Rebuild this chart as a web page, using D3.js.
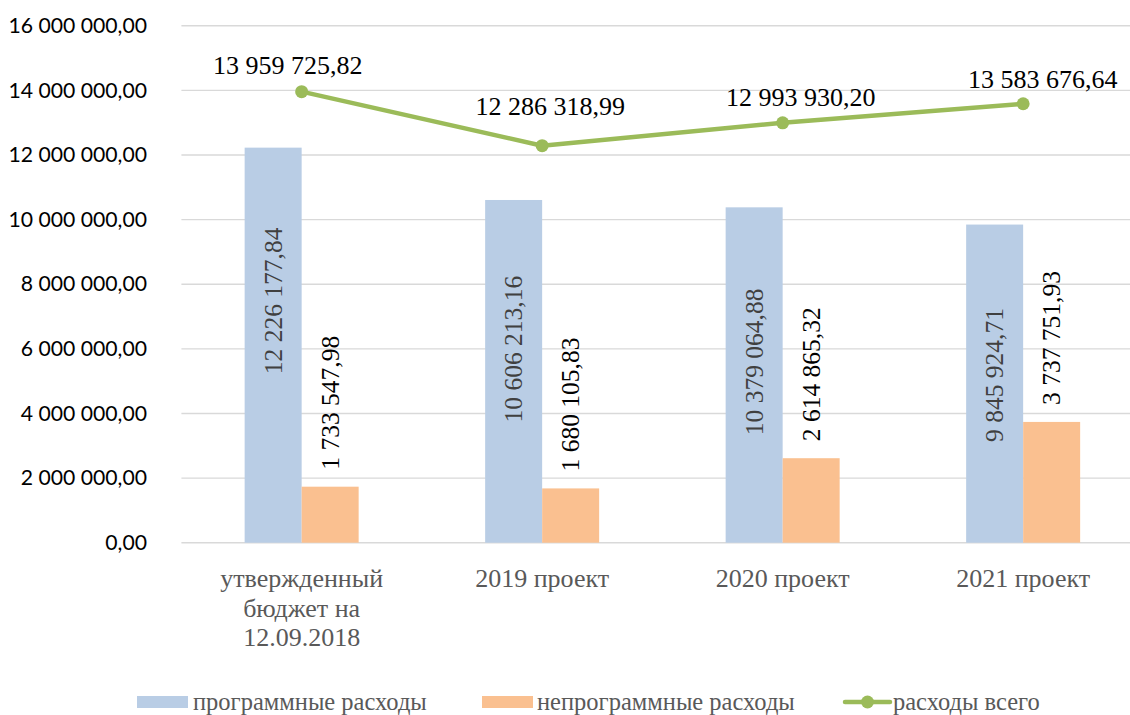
<!DOCTYPE html>
<html><head><meta charset="utf-8">
<script src="https://cdn.jsdelivr.net/npm/d3@7"></script>
<style>body{margin:0;background:#fff}svg{display:block}</style>
</head><body>
<svg id="chart" width="1130" height="715"></svg>
<script>
// ---- data ----
const categories = [["утвержденный","бюджет на","12.09.2018"],["2019 проект"],["2020 проект"],["2021 проект"]];
const programValues = [12226177.84, 10606213.16, 10379064.88, 9845924.71];
const nonProgramValues = [1733547.98, 1680105.83, 2614865.32, 3737751.93];
const totalValues = [13959725.82, 12286318.99, 12993930.20, 13583676.64];
const yTicks = [0, 2000000, 4000000, 6000000, 8000000, 10000000, 12000000, 14000000, 16000000];
const seriesNames = ["программные расходы", "непрограммные расходы", "расходы всего"];
// label layout tweaks (as placed in the original)
const progLabelAnchor = [0.612, 0.565, 0.539, 0.527];
const totalLabelDx = [-14, 8, 18, 19.5];
const totalLabelDy = [-26, -39, -25, -24];

const colors = {prog:"#B9CDE5", nonprog:"#FAC090", total:"#9BBB59", grid:"#D9D9D9"};
const loc = d3.formatLocale({decimal:",", thousands:" ", grouping:[3], currency:["",""]});
const fmt = loc.format(",.2f");

const svg = d3.select("#chart");
const idx = d3.range(categories.length);
const x = d3.scaleBand().domain(idx).range([181.4, 1143.4]);
const y = d3.scaleLinear().domain([0, 16000000]).range([542.7, 25.7]);
const barW = 57;
const sub = d3.scaleBand().domain(["prog","nonprog"]).range([-barW, barW]);
const cx = i => x(i) + x.bandwidth()/2;

// gridlines
svg.append("g").selectAll("line").data(yTicks).join("line")
  .attr("x1", x.range()[0]).attr("x2", x.range()[1])
  .attr("y1", d => y(d)).attr("y2", d => y(d))
  .attr("stroke", colors.grid).attr("stroke-width", 1.4);

// y axis labels
const yAxis = d3.axisLeft(y).tickValues(yTicks).tickFormat(fmt).tickSize(0).tickPadding(0);
const ya = svg.append("g").attr("transform", "translate(147,0)").call(yAxis);
ya.select(".domain").remove();
ya.selectAll("text").attr("font-family", "Lato, 'Open Sans', sans-serif").attr("font-size", 21.2).attr("fill", "#000");

// bars
svg.append("g").selectAll("rect").data(idx).join("rect")
  .attr("x", i => cx(i) + sub("prog")).attr("width", sub.bandwidth())
  .attr("y", i => y(programValues[i])).attr("height", i => y(0) - y(programValues[i]))
  .attr("fill", colors.prog);
svg.append("g").selectAll("rect").data(idx).join("rect")
  .attr("x", i => cx(i) + sub("nonprog")).attr("width", sub.bandwidth())
  .attr("y", i => y(nonProgramValues[i])).attr("height", i => y(0) - y(nonProgramValues[i]))
  .attr("fill", colors.nonprog);

const serif = "Liberation Serif, Times New Roman, serif";
// bar labels (rotated)
svg.append("g").selectAll("text").data(idx).join("text")
  .attr("transform", i => `translate(${cx(i) + sub("prog") + sub.bandwidth()/2},${y(programValues[i]*progLabelAnchor[i])}) rotate(-90)`)
  .attr("text-anchor", "middle").attr("dy", "0.33em")
  .attr("font-family", serif).attr("font-size", 25.5).attr("fill", "#404040")
  .text(i => fmt(programValues[i]));
svg.append("g").selectAll("text").data(idx).join("text")
  .attr("transform", i => `translate(${cx(i) + sub("nonprog") + sub.bandwidth()/2},${y(nonProgramValues[i]) - 17}) rotate(-90)`)
  .attr("text-anchor", "start").attr("dy", "0.33em")
  .attr("font-family", serif).attr("font-size", 25.5).attr("fill", "#000")
  .text(i => fmt(nonProgramValues[i]));

// total line
const line = d3.line().x(i => cx(i)).y(i => y(totalValues[i]));
svg.append("path").datum(idx).attr("d", line).attr("fill", "none")
  .attr("stroke", colors.total).attr("stroke-width", 4.5).attr("stroke-linejoin", "round").attr("stroke-linecap", "round");
svg.append("g").selectAll("circle").data(idx).join("circle")
  .attr("cx", i => cx(i)).attr("cy", i => y(totalValues[i])).attr("r", 6.5).attr("fill", colors.total);
svg.append("g").selectAll("text").data(idx).join("text")
  .attr("x", i => cx(i) + totalLabelDx[i]).attr("y", i => y(totalValues[i]) + totalLabelDy[i])
  .attr("text-anchor", "middle").attr("dy", "0.33em")
  .attr("font-family", serif).attr("font-size", 26).attr("fill", "#000")
  .text(i => fmt(totalValues[i]));

// category labels
const cat = svg.append("g").selectAll("text").data(idx).join("text")
  .attr("x", i => cx(i)).attr("y", 587)
  .attr("text-anchor", "middle").attr("font-family", serif).attr("font-size", 26).attr("fill", "#595959");
cat.selectAll("tspan").data(i => categories[i].map(t => ({t, x: cx(i)}))).join("tspan")
  .attr("x", d => d.x).attr("dy", (d, k) => k === 0 ? 0 : 29.5).text(d => d.t);

// legend
const lg = svg.append("g").attr("font-family", serif).attr("font-size", 24.5).attr("fill", "#595959");
const legX = [137, 482, 845];
lg.append("rect").attr("x", legX[0]).attr("y", 696).attr("width", 51).attr("height", 12).attr("fill", colors.prog);
lg.append("text").attr("x", legX[0] + 56).attr("y", 710).text(seriesNames[0]);
lg.append("rect").attr("x", legX[1]).attr("y", 696).attr("width", 51).attr("height", 12).attr("fill", colors.nonprog);
lg.append("text").attr("x", legX[1] + 55).attr("y", 710).text(seriesNames[1]);
lg.append("line").attr("x1", legX[2]).attr("x2", legX[2] + 45).attr("y1", 702).attr("y2", 702)
  .attr("stroke", colors.total).attr("stroke-width", 4.5).attr("stroke-linecap", "round");
lg.append("circle").attr("cx", legX[2] + 22.5).attr("cy", 702).attr("r", 6.5).attr("fill", colors.total);
lg.append("text").attr("x", legX[2] + 48).attr("y", 710).text(seriesNames[2]);
</script>
</body></html>
